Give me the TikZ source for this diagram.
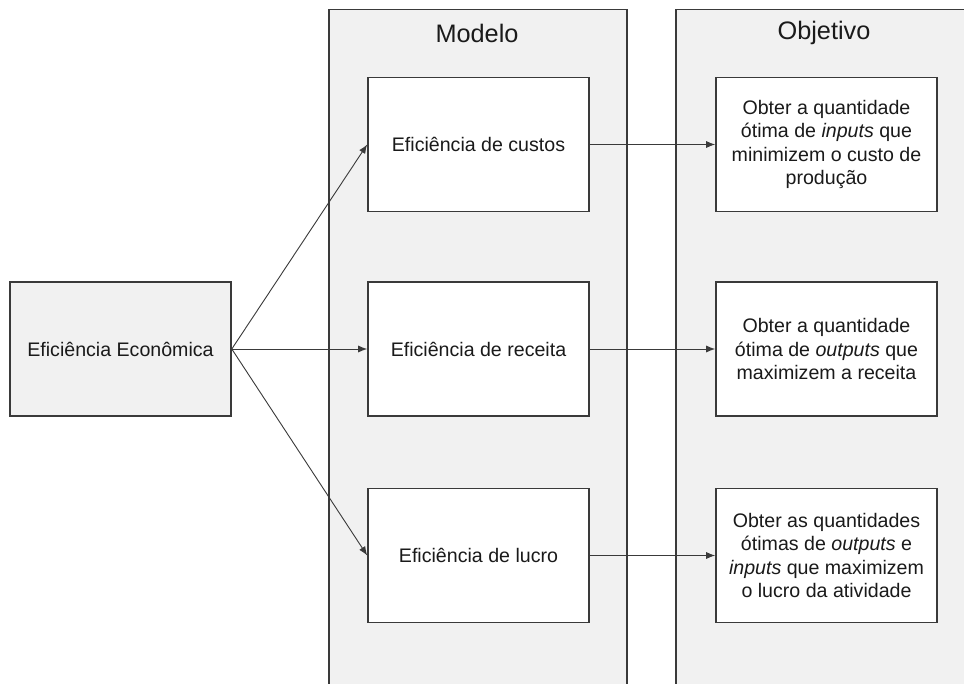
\documentclass[tikz,border=0pt]{standalone}
\usepackage{fontspec}
\setmainfont{Liberation Sans}
\usetikzlibrary{arrows.meta}
\definecolor{lanefill}{HTML}{F1F1F1}
\definecolor{edge}{HTML}{3A3A3A}
\definecolor{ink}{HTML}{1A1A1A}
\begin{document}
\begin{tikzpicture}[x=1pt,y=-1pt,
  lane/.style={draw=edge,fill=lanefill,line width=1.5pt,anchor=north west,inner sep=0pt},
  lanetitle/.style={text=ink,font=\fontsize{25.3}{30}\selectfont,inner sep=0pt},
  box/.style={draw=edge,line width=1.6pt,minimum width=221pt,minimum height=134pt,
    inner sep=0pt,align=center,text=ink,font=\fontsize{19.6}{23.6}\selectfont},
  conn/.style={draw=edge,line width=0.9pt,-{Latex[length=9pt,width=7pt]}}]
\clip (0,0) rectangle (964,684);
\fill[white] (0,0) rectangle (964,684);
% swimlanes
\node[lane,minimum width=298pt,minimum height=700pt] (modelo) at (328,9) {};
\node[lane,minimum width=300pt,minimum height=700pt] (objetivo) at (675,9) {};
\node[lanetitle] (tmodelo) at (477,33) {Modelo};
\node[lanetitle] (tobjetivo) at (824,33) {Objetivo};
% source box
\node[box,fill=lanefill] (econ) at (120.5,349) {Eficiência Econômica};
% model boxes
\node[box,fill=white] (custos) at (478.5,144.5) {Eficiência de custos};
\node[box,fill=white] (receita) at (478.5,349) {Eficiência de receita};
\node[box,fill=white] (lucro) at (478.5,555.5) {Eficiência de lucro};
% objective boxes
\node[box,fill=white] (ocustos) at (826.5,144.5)
  {Obter a quantidade\\ótima de \textit{inputs} que\\minimizem o custo de\\produção};
\node[box,fill=white] (oreceita) at (826.5,349)
  {Obter a quantidade\\ótima de \textit{outputs} que\\maximizem a receita};
\node[box,fill=white] (olucro) at (826.5,555.5)
  {Obter as quantidades\\ótimas de \textit{outputs} e\\\textit{inputs} que maximizem\\o lucro da atividade};
% connectors
\draw[conn] (econ.east) -- (custos.west);
\draw[conn] (econ.east) -- (receita.west);
\draw[conn] (econ.east) -- (lucro.west);
\draw[conn] (custos.east) -- (ocustos.west);
\draw[conn] (receita.east) -- (oreceita.west);
\draw[conn] (lucro.east) -- (olucro.west);
\end{tikzpicture}
\end{document}
